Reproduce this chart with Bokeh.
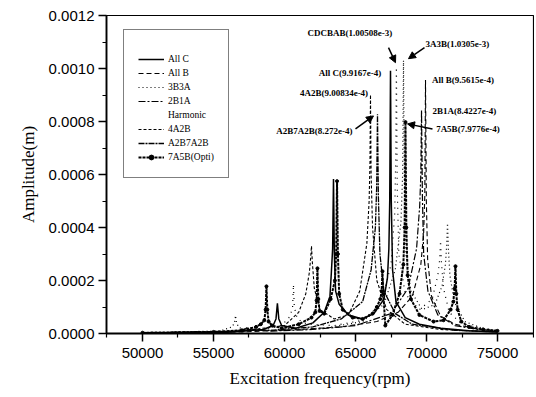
from bokeh.plotting import figure
from bokeh.models import (Legend, LegendItem, Range1d, PrintfTickFormatter, FixedTicker,
                          Arrow, NormalHead, Label)
from bokeh.embed import file_html
from bokeh.resources import INLINE

# ---------------- data ----------------
allc_x = [50000, 56000, 58500, 59200, 59400, 59500, 59600, 59800, 60800, 62000, 62800, 63200,
          63300, 63390, 63450, 63510, 63600, 63850, 64500, 65500, 66300, 67000, 67250, 67350,
          67410, 67465, 67520, 67610, 67850, 68500, 69500, 71000, 73000, 75000]
allc_y = [2e-6, 5e-6, 1.5e-5, 3.0e-5, 5.5e-5, 1.14e-4, 5.5e-5, 3.0e-5, 2.0e-5, 4.0e-5, 8.0e-5, 1.4e-4,
          2.3e-4, 3.2e-4, 5.83e-4, 3.0e-4, 1.6e-4, 1.1e-4, 7.0e-5, 5.5e-5, 7.5e-5, 1.3e-4, 2.1e-4, 3.2e-4,
          5.0e-4, 9.9167e-4, 5.0e-4, 2.4e-4, 1.2e-4, 6.0e-5, 3.5e-5, 2.0e-5, 1.0e-5, 6e-6]

allb_x = [50000, 57000, 61000, 64000, 66500, 68000, 69000, 69600, 69800, 69880, 69930, 69990,
          70080, 70350, 71000, 72000, 73500, 75000]
allb_y = [2e-6, 6e-6, 1.5e-5, 2.5e-5, 4.5e-5, 8.0e-5, 1.4e-4, 2.6e-4, 3.8e-4, 5.2e-4, 9.5615e-4, 5.0e-4,
          2.8e-4, 1.4e-4, 6.5e-5, 3.5e-5, 1.8e-5, 1.0e-5]

b3a3_x = [50000, 55500, 56300, 56480, 56550, 56620, 56800, 57600, 60000, 63000, 65500, 67000,
          67800, 68200, 68320, 68380, 68440, 68550, 68900, 69700, 70600, 71100, 71330, 71420,
          71480, 71540, 71650, 71950, 72700, 74000, 75000]
b3a3_y = [2e-6, 1.0e-5, 2.5e-5, 4.0e-5, 6.8e-5, 4.0e-5, 2.2e-5, 1.2e-5, 1.2e-5, 2.2e-5, 4.5e-5, 1.1e-4,
          2.4e-4, 4.2e-4, 6.0e-4, 1.0305e-3, 5.5e-4, 3.0e-4, 1.6e-4, 9.0e-5, 1.1e-4, 1.8e-4, 2.6e-4, 3.3e-4,
          4.16e-4, 3.2e-4, 2.2e-4, 1.2e-4, 4.5e-5, 1.8e-5, 1.2e-5]

b2a1_x = [50000, 57000, 57600, 57750, 57900, 59000, 62000, 65000, 67500, 68700, 69300, 69520,
          69600, 69650, 69710, 69800, 70100, 70800, 72000, 73500, 75000]
b2a1_y = [2e-6, 8e-6, 1.5e-5, 2.3e-5, 1.5e-5, 9e-6, 1.5e-5, 3.0e-5, 7.5e-5, 1.7e-4, 3.2e-4, 4.8e-4,
          6.0e-4, 8.4227e-4, 5.2e-4, 3.0e-4, 1.6e-4, 7.0e-5, 3.0e-5, 1.6e-5, 9e-6]

harm_x = [50000, 58000, 59800, 60400, 60570, 60630, 60690, 60900, 61600, 63500, 65500, 66800,
          67500, 67760, 67830, 67880, 67940, 68050, 68500, 69500, 70400, 70800, 70930, 70990,
          71050, 71200, 71600, 72500, 75000]
harm_y = [2e-6, 1.0e-5, 3.0e-5, 6.5e-5, 1.0e-4, 1.85e-4, 1.0e-4, 5.5e-5, 3.5e-5, 3.0e-5, 5.0e-5, 1.1e-4,
          2.6e-4, 4.5e-4, 6.5e-4, 1.00508e-3, 5.5e-4, 3.0e-4, 1.5e-4, 9.0e-5, 1.3e-4, 2.2e-4, 2.8e-4, 3.5e-4,
          2.7e-4, 1.7e-4, 8.0e-5, 3.5e-5, 1.0e-5]

a42b_x = [50000, 57000, 60000, 61000, 61500, 61750, 61850, 61900, 61960, 62100, 62500, 63500,
          64500, 65300, 65800, 65960, 66020, 66056, 66100, 66200, 66500, 67200, 68500, 71000, 75000]
a42b_y = [2e-6, 1.0e-5, 3.0e-5, 8.0e-5, 1.5e-4, 2.3e-4, 2.9e-4, 3.3e-4, 2.7e-4, 1.7e-4, 9.0e-5, 5.5e-5,
          7.0e-5, 1.6e-4, 3.4e-4, 5.0e-4, 6.5e-4, 9.00834e-4, 6.0e-4, 4.0e-4, 2.0e-4, 9.0e-5, 3.5e-5,
          1.5e-5, 6e-6]

a2b7_x = [50000, 56500, 57200, 57350, 57500, 59000, 62000, 64000, 65500, 66100, 66400, 66490,
          66549, 66610, 66720, 67000, 67800, 69000, 72000, 75000]
a2b7_y = [2e-6, 7e-6, 1.5e-5, 2.2e-5, 1.4e-5, 1.2e-5, 2.5e-5, 5.5e-5, 1.2e-4, 2.4e-4, 4.0e-4, 5.5e-4,
          8.272e-4, 5.2e-4, 3.0e-4, 1.6e-4, 7.5e-5, 3.5e-5, 1.2e-5, 6e-6]

a75b_x = [50000, 55000, 57000, 58000, 58330, 58580, 58670, 58730, 58790, 58880, 59130, 59800,
          61000, 61900, 62170, 62260, 62320, 62380, 62470, 62800, 63250, 63550, 63640, 63700,
          63760, 63850, 64100, 64800, 65500, 66200, 66500, 66750, 66840, 66900, 66960, 67100,
          67600, 68100, 68370, 68460, 68520, 68580, 68670, 68900, 69500, 70500, 71200, 71700,
          71890, 71980, 72040, 72100, 72190, 72450, 73000, 74000, 75000]
a75b_y = [3e-6, 6e-6, 1.2e-5, 2.5e-5, 3.5e-5, 5.0e-5, 9.0e-5, 1.78e-4, 9.0e-5, 4.5e-5, 3.0e-5, 2.0e-5,
          3.5e-5, 6.0e-5, 8.0e-5, 1.25e-4, 2.46e-4, 1.3e-4, 8.5e-5, 7.5e-5, 1.3e-4, 2.0e-4, 3.0e-4, 5.75e-4,
          3.0e-4, 1.5e-4, 9.0e-5, 6.0e-5, 5.5e-5, 7.5e-5, 1.0e-4, 1.3e-4, 1.6e-4, 2.35e-4, 1.5e-4, 3.0e-5,
          7.0e-5, 1.5e-4, 2.6e-4, 4.0e-4, 7.9776e-4, 4.0e-4, 2.2e-4, 1.3e-4, 7.0e-5, 4.5e-5, 5.0e-5, 9.0e-5,
          1.2e-4, 1.7e-4, 2.54e-4, 1.5e-4, 9.0e-5, 4.5e-5, 2.5e-5, 1.5e-5, 1.0e-5]

x_ticks = [50000, 55000, 60000, 65000, 70000, 75000]
x_minor = [47500, 52500, 57500, 62500, 67500, 72500, 77500]
y_ticks = [0.0, 0.0002, 0.0004, 0.0006, 0.0008, 0.0010, 0.0012]
y_minor = [0.0001, 0.0003, 0.0005, 0.0007, 0.0009, 0.0011]

# annotations: (text, x, y)
ann_labels = [
    ("CDCBAB(1.00508e-3)", 64612, 1.1355e-3),
    ("3A3B(1.0305e-3)", 72182, 1.094e-3),
    ("All C(9.9167e-4)", 64612, 9.84e-4),
    ("All B(9.5615e-4)", 72570, 9.58e-4),
    ("4A2B(9.00834e-4)", 63486, 9.08e-4),
    ("2B1A(8.4227e-4)", 72675, 8.40e-4),
    ("A2B7A2B(8.272e-4)", 62112, 7.646e-4),
    ("7A5B(7.9776e-4)", 72922, 7.72e-4),
]
ann_arrows = [
    (67324, 1.0787e-3, 67817, 1.022e-3),
    (69859, 1.0787e-3, 68732, 1.037e-3),
    (65000, 7.72e-4, 66267, 8.21e-4),
    (70422, 7.72e-4, 68662, 7.91e-4),
]

# ---------------- figure ----------------
p = figure(width=534, height=395, output_backend="svg", toolbar_location=None,
           x_range=Range1d(47465, 77535), y_range=Range1d(0, 0.0012),
           min_border_left=106, min_border_right=1, min_border_top=15, min_border_bottom=62,
           x_axis_label="Excitation frequency(rpm)", y_axis_label="Amplitude(m)")
p.grid.visible = False
p.outline_line_color = "black"
p.outline_line_width = 1.2
p.background_fill_color = "white"
p.border_fill_color = "white"

p.xaxis.ticker = FixedTicker(ticks=x_ticks, minor_ticks=x_minor)
p.yaxis.ticker = FixedTicker(ticks=y_ticks, minor_ticks=y_minor)
p.yaxis.formatter = PrintfTickFormatter(format="%.4f")
for ax in (p.xaxis[0], p.yaxis[0]):
    ax.axis_line_width = 1.8
    ax.axis_line_color = "black"
    ax.major_tick_out = 8
    ax.major_tick_in = 0
    ax.minor_tick_out = 4
    ax.minor_tick_in = 0
    ax.major_tick_line_width = 1.5
    ax.minor_tick_line_width = 1.2
    ax.major_tick_line_color = "black"
    ax.minor_tick_line_color = "black"
    ax.major_label_text_font = "Liberation Sans"
    ax.major_label_text_font_size = "15px"
    ax.major_label_text_color = "black"
    ax.axis_label_text_font = "Liberation Serif"
    ax.axis_label_text_font_size = "17px"
    ax.axis_label_text_font_style = "normal"
    ax.axis_label_text_color = "black"
p.xaxis.major_label_standoff = 6
p.yaxis.major_label_standoff = 4
p.xaxis.axis_label_standoff = 8
p.yaxis.axis_label_standoff = 8

r_allc = p.line(allc_x, allc_y, line_color="black", line_width=1.5)
r_allb = p.line(allb_x, allb_y, line_color="black", line_width=1.1, line_dash="5 3")
r_3b3a = p.line(b3a3_x, b3a3_y, line_color="black", line_width=1.2, line_dash="1 3")
r_2b1a = p.line(b2a1_x, b2a1_y, line_color="black", line_width=1.2, line_dash="7 2 2 2")
r_cdc = p.line(harm_x, harm_y, line_color="black", line_width=1.2, line_dash="1 5")
r_harm = p.line([], [], line_alpha=0)
r_4a2b = p.line(a42b_x, a42b_y, line_color="black", line_width=1.1, line_dash="3 2")
r_a2b7 = p.line(a2b7_x, a2b7_y, line_color="black", line_width=1.3, line_dash="6 1 2 1")
r_7a5b = p.line(a75b_x, a75b_y, line_color="black", line_width=2.0, line_dash="3 1")
r_7a5b_m = p.scatter(a75b_x, a75b_y, size=3, color="black")

for txt, tx, ty in ann_labels:
    p.add_layout(Label(x=tx, y=ty, text=txt, text_align="center", text_baseline="middle",
                       text_font="Liberation Serif", text_font_size="9px",
                       text_font_style="bold", text_color="black"))
for xs, ys, xe, ye in ann_arrows:
    p.add_layout(Arrow(end=NormalHead(size=7, fill_color="black", line_color="black"),
                       x_start=xs, y_start=ys, x_end=xe, y_end=ye,
                       line_width=1.5, line_color="black"))

items = [
    LegendItem(label="All C", renderers=[r_allc]),
    LegendItem(label="All B", renderers=[r_allb]),
    LegendItem(label="3B3A", renderers=[r_3b3a]),
    LegendItem(label="2B1A", renderers=[r_2b1a]),
    LegendItem(label="Harmonic", renderers=[r_harm]),
    LegendItem(label="4A2B", renderers=[r_4a2b]),
    LegendItem(label="A2B7A2B", renderers=[r_a2b7]),
    LegendItem(label="7A5B(Opti)", renderers=[r_7a5b, r_7a5b_m]),
]
leg = Legend(items=items, location=(17, 155), title=" ", title_text_font_size="6px",
             title_standoff=3, padding=14, spacing=2, label_height=12, glyph_height=12,
             glyph_width=26, label_standoff=4, label_text_font="Liberation Serif",
             label_text_font_size="9.5px", label_text_color="black",
             border_line_color="black", border_line_width=1, background_fill_alpha=1,
             margin=0)
p.add_layout(leg)

open("out.html", "w").write(file_html(p, INLINE))
